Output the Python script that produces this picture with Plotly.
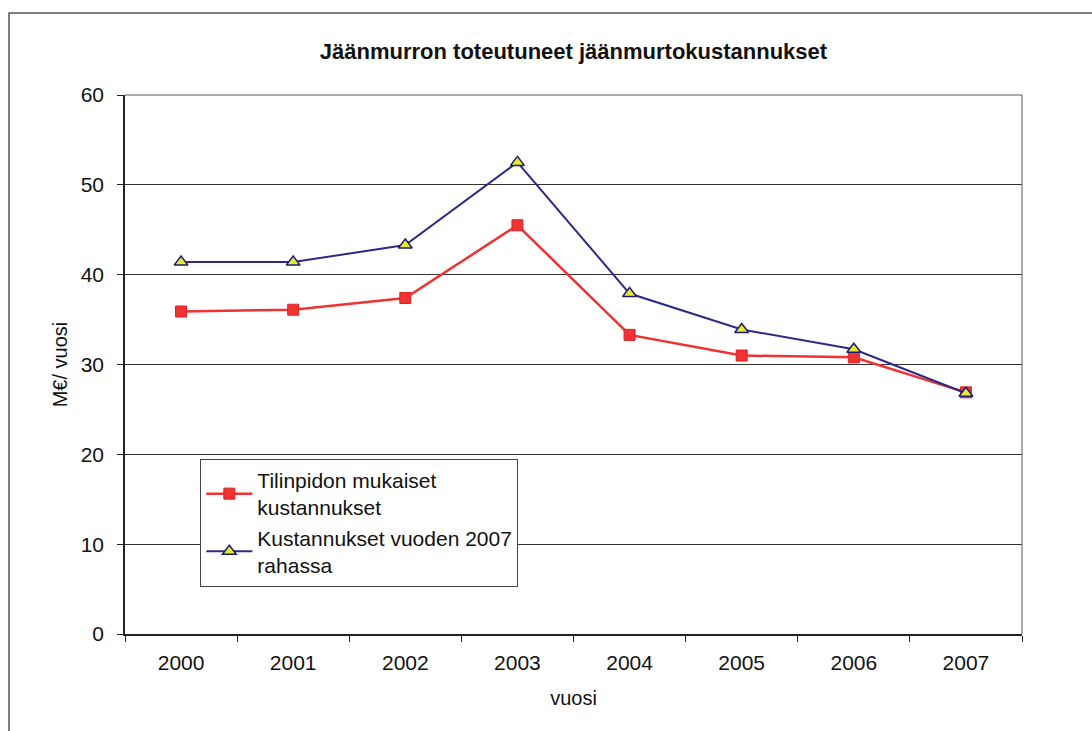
import plotly.graph_objects as go

# Yearly ice-breaking costs (M€ per year)
years = ["2000", "2001", "2002", "2003", "2004", "2005", "2006", "2007"]
kirjanpito = [35.9, 36.1, 37.4, 45.5, 33.3, 31.0, 30.8, 26.9]
rahassa_2007 = [41.4, 41.4, 43.3, 52.5, 37.9, 33.9, 31.7, 26.8]
y_ticks = [0, 10, 20, 30, 40, 50, 60]

FONT = "Liberation Sans, Arial, sans-serif"

fig = go.Figure()

fig.add_trace(go.Scatter(
    x=years, y=kirjanpito,
    mode="lines+markers",
    name="Tilinpidon mukaiset<br>kustannukset",
    line=dict(color="#f03232", width=2.5),
    marker=dict(symbol="square", size=11, color="#f03232",
                line=dict(color="#e02020", width=1)),
))

fig.add_trace(go.Scatter(
    x=years, y=rahassa_2007,
    mode="lines+markers",
    name="Kustannukset vuoden 2007<br>rahassa",
    line=dict(color="#2b2b86", width=2),
    marker=dict(symbol="triangle-up", size=12, color="#e8e830",
                line=dict(color="#1c1c70", width=1.5)),
))

fig.update_layout(
    width=1092, height=731,
    margin=dict(l=125, r=70, t=95, b=97),
    paper_bgcolor="white",
    plot_bgcolor="white",
    font=dict(family=FONT, color="#111111"),
    title=dict(
        text="<b>Jäänmurron toteutuneet jäänmurtokustannukset</b>",
        x=0.5, xanchor="center", xref="paper",
        y=0.93, yanchor="middle",
        font=dict(family=FONT, size=22, color="#111111"),
    ),
    showlegend=True,
    legend=dict(
        x=0.084, y=0.325, xanchor="left", yanchor="top",
        bgcolor="white",
        bordercolor="#444444", borderwidth=1,
        font=dict(family=FONT, size=21, color="#111111"),
        tracegroupgap=4,
        itemwidth=46,
    ),
)

fig.update_xaxes(
    type="category",
    range=[-0.5, 7.5],
    tickson="boundaries",
    ticks="outside", ticklen=6, tickcolor="#222222", tickwidth=1,
    showline=True, linecolor="#222222", linewidth=1.5,
    mirror=False,
    showgrid=False,
    tickfont=dict(family=FONT, size=21, color="#111111"),
    ticklabelstandoff=9,
    title=dict(text="vuosi", font=dict(family=FONT, size=20, color="#111111"), standoff=18),
)

fig.update_yaxes(
    range=[0, 60],
    tickvals=y_ticks,
    ticks="outside", ticklen=6, tickcolor="#222222", tickwidth=1,
    showline=True, linecolor="#222222", linewidth=1.5,
    showgrid=True, gridcolor="#333333", gridwidth=1,
    zeroline=False,
    tickfont=dict(family=FONT, size=21, color="#111111"),
    ticklabelstandoff=9,
    title=dict(text="M€/ vuosi", font=dict(family=FONT, size=20, color="#111111"), standoff=8),
)

# plot-area border on top and right
fig.add_shape(type="line", xref="paper", yref="paper", x0=0, x1=1, y0=1, y1=1,
              line=dict(color="#555555", width=1))
fig.add_shape(type="line", xref="paper", yref="paper", x0=1, x1=1, y0=0, y1=1,
              line=dict(color="#555555", width=1))

# outer chart frame
fig.add_shape(type="rect", xref="paper", yref="paper",
              x0=-0.1293, x1=1.2, y0=-0.3, y1=1.152,
              line=dict(color="#555555", width=1.5), fillcolor="rgba(0,0,0,0)",
              layer="below")

fig.write_html("out.html")
